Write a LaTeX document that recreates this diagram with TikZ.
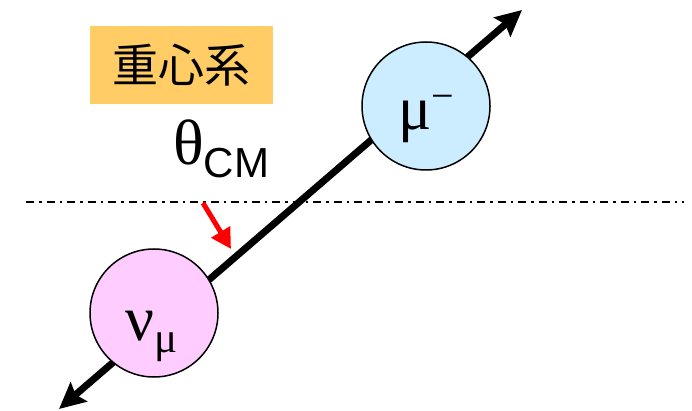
\documentclass[tikz,border=0pt]{standalone}
\usepackage{fontspec}
\setmainfont{Liberation Serif}
\newfontfamily\cjk{Noto Sans CJK JP}
\newfontfamily\arialf{Liberation Sans}
\usetikzlibrary{arrows.meta}
\definecolor{boxorange}{RGB}{255,204,102}
\definecolor{mublue}{RGB}{204,236,255}
\definecolor{nupink}{RGB}{255,204,255}
\tikzset{
  particle/.style={circle, draw=black, line width=1.5pt, minimum size=128pt, inner sep=0pt},
  axisline/.style={line width=2pt, dash pattern=on 8pt off 5pt on 2.5pt off 5pt},
  momentum/.style={line width=7pt, {Stealth[length=26pt,width=25pt,inset=4pt]}-{Stealth[length=26pt,width=25pt,inset=4pt]}},
  anglearrow/.style={red, line width=5pt, -{Triangle[length=20pt,width=21pt]}},
  lbl/.style={inner sep=0pt, anchor=base west}
}
\begin{document}
\begin{tikzpicture}[x=1pt,y=-1pt]
\useasboundingbox (0,0) rectangle (692,411);
% frame label
\node[fill=boxorange, minimum width=183pt, minimum height=78pt, inner sep=0pt] (frame) at (181.5,65)
  {\cjk\fontsize{46}{46}\selectfont 重心系};
% angle label
\node[lbl] (theta) at (173,165) {\fontsize{64}{64}\selectfont θ\raisebox{-13pt}{\arialf\fontsize{42}{42}\selectfont CM}};
% axis
\coordinate (axL) at (26,202);
\coordinate (axR) at (684,202);
\draw[axisline] (axL) -- (axR);
% momentum line
\coordinate (pbot) at (59,409);
\coordinate (ptop) at (522,10);
\draw[momentum] (pbot) -- (ptop);
% angle arrow
\coordinate (r1) at (203,203);
\coordinate (r2) at (231,249);
\draw[anglearrow] (r1) -- (r2);
% particles
\node[particle, fill=mublue] (mu) at (426,106) {};
\node[particle, fill=nupink] (nu) at (154,313) {};
\node[lbl] (mulbl) at (398,130) {\fontsize{62}{62}\selectfont μ\raisebox{20pt}{\fontsize{40}{40}\selectfont −}};
\node[lbl] (nulbl) at (125,340) {\fontsize{64}{64}\selectfont ν\raisebox{-12pt}{\fontsize{43}{43}\selectfont μ}};
\end{tikzpicture}
\end{document}
